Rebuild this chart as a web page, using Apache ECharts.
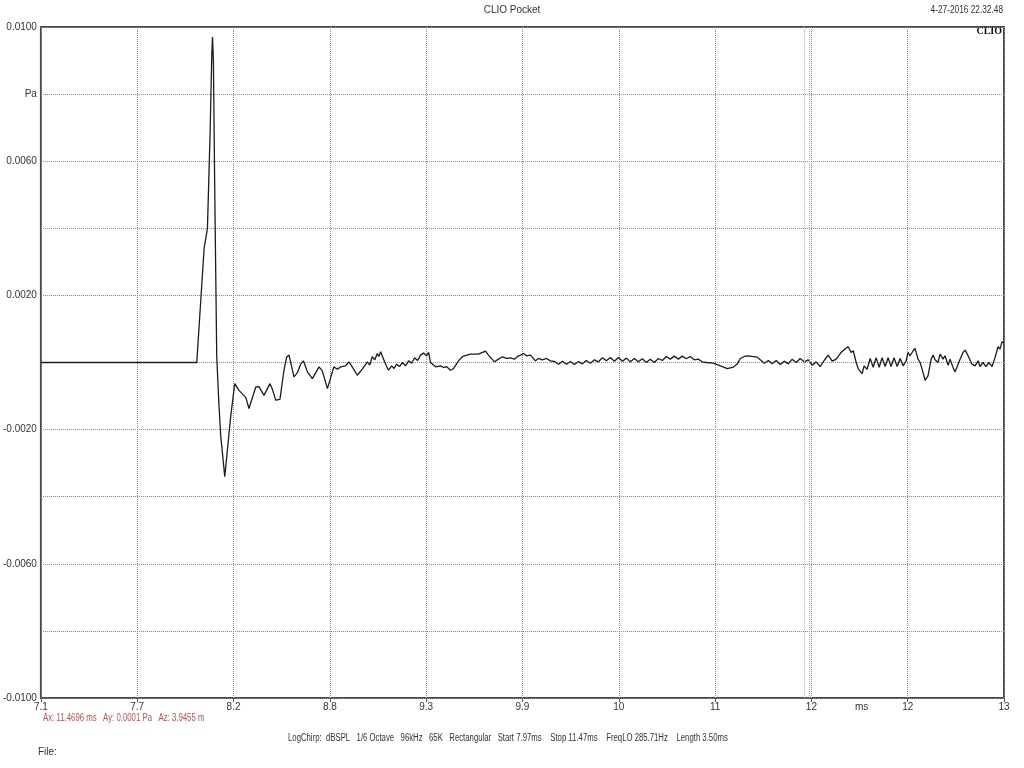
<!DOCTYPE html>
<html><head><meta charset="utf-8">
<script src="https://cdn.jsdelivr.net/npm/echarts@6/dist/echarts.min.js"></script>
<style>html,body{margin:0;padding:0;background:#fff}#c{width:1024px;height:768px}</style>
</head><body><div id="c"></div><script>
// Impulse response samples (time in ms, pressure in Pa)
const timeMs = [
 7.100, 7.400, 7.700, 7.990, 7.998, 8.032, 8.051, 8.066, 8.076, 8.080,
 8.085, 8.093, 8.104, 8.116, 8.127, 8.150, 8.167, 8.184, 8.207, 8.231,
 8.270, 8.288, 8.298, 8.327, 8.345, 8.374, 8.408, 8.422, 8.441, 8.465,
 8.488, 8.504, 8.517, 8.545, 8.565, 8.583, 8.599, 8.622, 8.650, 8.670,
 8.688, 8.707, 8.736, 8.755, 8.773, 8.793, 8.812, 8.840, 8.859, 8.874,
 8.907, 8.935, 8.964, 8.978, 8.992, 9.007, 9.021, 9.030, 9.040, 9.057,
 9.071, 9.085, 9.103, 9.117, 9.131, 9.148, 9.165, 9.182, 9.200, 9.217,
 9.234, 9.251, 9.268, 9.285, 9.302, 9.314, 9.325, 9.354, 9.382, 9.399,
 9.416, 9.439, 9.456, 9.485, 9.508, 9.553, 9.599, 9.639, 9.656, 9.690,
 9.713, 9.736, 9.759, 9.782, 9.804, 9.822, 9.839, 9.856, 9.873, 9.896,
 9.924, 9.941, 9.964, 9.987, 10.010,
 10.033, 10.056, 10.079, 10.101, 10.124, 10.147, 10.170, 10.192, 10.215, 10.238,
 10.261, 10.284, 10.307, 10.329, 10.352, 10.375, 10.398, 10.421, 10.444, 10.466,
 10.489, 10.512, 10.535, 10.557, 10.580, 10.603, 10.626, 10.649, 10.672, 10.694,
 10.717, 10.740, 10.763, 10.786, 10.808, 10.831, 10.854, 10.877,
 10.900, 10.940, 10.980, 11.020, 11.054, 11.077, 11.094, 11.117, 11.134, 11.162, 11.191,
 11.208, 11.231, 11.254, 11.276, 11.299, 11.322, 11.345, 11.368, 11.390, 11.413,
 11.436, 11.459, 11.482, 11.505, 11.527, 11.550, 11.573, 11.596, 11.619, 11.642,
 11.670, 11.693, 11.710, 11.727,
 11.739, 11.756, 11.767, 11.790, 11.801, 11.818, 11.836, 11.853, 11.870, 11.887,
 11.904, 11.921, 11.938, 11.955, 11.972, 11.990, 12.007, 12.024, 12.041, 12.052,
 12.064, 12.081, 12.092, 12.109, 12.121, 12.138, 12.149, 12.166, 12.184, 12.195,
 12.206, 12.223, 12.235, 12.252, 12.263, 12.281, 12.292, 12.309, 12.320, 12.338,
 12.349, 12.366, 12.378, 12.395, 12.406, 12.417, 12.435, 12.452, 12.463, 12.480,
 12.497, 12.514, 12.532, 12.549, 12.566, 12.577, 12.589, 12.600
];
const pressurePa = [
 0, 0, 0, 0, 0.00002, 0.0034, 0.0040, 0.0068, 0.0092, 0.0097,
 0.0090, 0.0050, 0.0002, -0.0012, -0.0022, -0.0034, -0.0025, -0.0016, -0.00063, -0.00083,
 -0.00104, -0.00137, -0.0014, -0.00073, -0.00072, -0.00098, -0.00063, -0.00080, -0.00112, -0.00110,
 -0.00023, 0.00017, 0.00022, -0.00043, -0.00030, -0.00005, 0.00005, -0.00028, -0.00048, -0.00030,
 -0.00013, -0.00025, -0.00078, -0.00045, -0.00013, -0.00020, -0.00013, -0.00010, 0.00002, -0.00010,
 -0.00038, -0.00020, 0.00002, -0.00008, 0.00017, 0.00008, 0.00027, 0.00018, 0.00032, 0.00010,
 -0.00008, -0.00023, -0.00010, -0.00018, -0.00005, -0.00012, 0.00000, -0.00010, 0.00005, -0.00002,
 0.00014, 0.00006, 0.00022, 0.00028, 0.00020, 0.00030, 0.00000, -0.00013, -0.00010, -0.00015,
 -0.00012, -0.00023, -0.00018, 0.00005, 0.00018, 0.00025, 0.00025, 0.00034, 0.00022, 0.00002,
 0.00010, 0.00017, 0.00012, 0.00014, 0.00010, 0.00018, 0.00022, 0.00027, 0.00020, 0.00022,
 0.00005, 0.00012, 0.00008, 0.00012, 0.00005,
 0.00003, -0.00005, 0.00004, -0.00005, 0.00003, -0.00006, 0.00003, -0.00004, 0.00006, -0.00002,
 0.00008, 0.00002, 0.00014, 0.00005, 0.00015, 0.00004, 0.00015, 0.00004, 0.00013, 0.00002,
 0.00012, 0.00002, 0.00011, 0.00000, 0.00010, 0.00000, 0.00012, 0.00006, 0.00018, 0.00010,
 0.00019, 0.00010, 0.00019, 0.00011, 0.00018, 0.00008, 0.00010, 0.00002,
 0.00000, -0.00002, -0.00010, -0.00018, -0.00014, -0.00004, 0.00012, 0.00018, 0.00020, 0.00018, 0.00016,
 0.00008, -0.00002, 0.00006, -0.00004, 0.00006, -0.00006, 0.00004, -0.00004, 0.00010, 0.00000,
 0.00012, 0.00002, 0.00008, -0.00008, 0.00002, -0.00012, 0.00006, 0.00022, 0.00004, 0.00010,
 0.00030, 0.00041, 0.00047, 0.00030,
 0.00035, 0.00000, -0.00018, -0.00033, -0.00010, -0.00020, 0.00012, -0.00014, 0.00014, -0.00014,
 0.00014, -0.00012, 0.00014, -0.00012, 0.00014, -0.00012, 0.00012, -0.00010, 0.00005, 0.00030,
 0.00020, 0.00035, 0.00042, 0.00010, 0.00000, -0.00030, -0.00053, -0.00040, 0.00010, 0.00022,
 0.00008, 0.00000, 0.00025, 0.00010, 0.00020, -0.00008, 0.00010, -0.00015, -0.00028, -0.00005,
 0.00010, 0.00030, 0.00037, 0.00020, 0.00015, -0.00005, -0.00010, 0.00005, -0.00012, 0.00000,
 -0.00012, 0.00000, -0.00012, 0.00015, 0.00047, 0.00040, 0.00062, 0.00058
];
const xTickLabels = ['7.1', '7.7', '8.2', '8.8', '9.3', '9.9', '10', '11', '12', '12', '13'];
const xRange = [7.1, 12.6];
const yTickValues = [0.01, 0.008, 0.006, 0.002, -0.002, -0.006, -0.01];
const yTickLabels = ['0.0100', 'Pa', '0.0060', '0.0020', '-0.0020', '-0.0060', '-0.0100'];
const cursorMs = [11.465, 11.487];
const titleText = 'CLIO Pocket';
const dateText = '4-27-2016 22.32.48';
const cursorText = 'Ax: 11.4696 ms   Ay: 0.0001 Pa   Az: 3.9455 m';
const infoText = 'LogChirp:  dBSPL   1/6 Octave   96kHz   65K   Rectangular   Start 7.97ms    Stop 11.47ms    FreqLO 285.71Hz    Length 3.50ms';

const FONT = "'Liberation Sans', Arial, sans-serif";
const chart = echarts.init(document.getElementById('c'), null, {renderer: 'canvas'});
const points = timeMs.map((t, i) => [t, pressurePa[i]]);

chart.setOption({
  animation: false,
  backgroundColor: '#ffffff',
  grid: {left: 40, right: 20, top: 27, bottom: 70, show: true, borderColor: '#4a4a4a', borderWidth: 2, backgroundColor: 'transparent'},
  xAxis: [
    {type: 'value', min: xRange[0], max: xRange[1], show: false},
    {type: 'category', data: xTickLabels, boundaryGap: false, position: 'bottom',
     axisLine: {show: false},
     axisTick: {show: true, interval: 0, length: 4, lineStyle: {color: '#555'}},
     axisLabel: {interval: 0, color: '#333', fontSize: 10, fontFamily: FONT, margin: 4},
     splitLine: {show: true, interval: 0, lineStyle: {type: 'dotted', color: '#8c8c8c', width: 1}}}
  ],
  yAxis: {
    type: 'value', min: -0.01, max: 0.01, interval: 0.002,
    axisLine: {show: false}, axisTick: {show: false},
    axisLabel: {color: '#333', fontSize: 10, fontFamily: FONT, margin: 4,
      formatter: v => {
        const i = yTickValues.findIndex(t => Math.abs(t - v) < 1e-6);
        return i >= 0 ? yTickLabels[i] : '';
      }},
    splitLine: {show: true, lineStyle: {type: 'dotted', color: '#8c8c8c', width: 1}}
  },
  series: [{
    type: 'line', xAxisIndex: 0, yAxisIndex: 0, data: points,
    showSymbol: false, symbol: 'none', sampling: null,
    lineStyle: {color: '#1c1c1c', width: 1.3},
    markLine: {
      silent: true, symbol: ['none', 'none'], label: {show: false},
      lineStyle: {color: '#d9a0a0', type: 'dotted', width: 1},
      data: cursorMs.map(v => ({xAxis: v}))
    }
  }],
  graphic: [
    {type: 'text', x: 512, y: 10, style: {text: titleText, fill: '#333', font: '10px ' + FONT, textAlign: 'center', textVerticalAlign: 'middle'}},
    {type: 'text', x: 1003, y: 10, scaleX: 0.83, style: {text: dateText, fill: '#333', font: '10px ' + FONT, textAlign: 'right', textVerticalAlign: 'middle'}},
    {type: 'text', x: 1002, y: 31, style: {text: 'CLIO', fill: '#111', font: "bold 10px 'Liberation Serif', serif", textAlign: 'right', textVerticalAlign: 'middle'}},
    {type: 'text', x: 855, y: 707, style: {text: 'ms', fill: '#333', font: '10px ' + FONT, textVerticalAlign: 'middle'}},
    {type: 'text', x: 43, y: 718, scaleX: 0.78, style: {text: cursorText, fill: '#c0504d', font: '10px ' + FONT, textVerticalAlign: 'middle'}},
    {type: 'text', x: 288, y: 738, scaleX: 0.776, style: {text: infoText, fill: '#333', font: '10px ' + FONT, textVerticalAlign: 'middle'}},
    {type: 'text', x: 38, y: 752, style: {text: 'File:', fill: '#333', font: '10px ' + FONT, textVerticalAlign: 'middle'}}
  ]
});
</script></body></html>
